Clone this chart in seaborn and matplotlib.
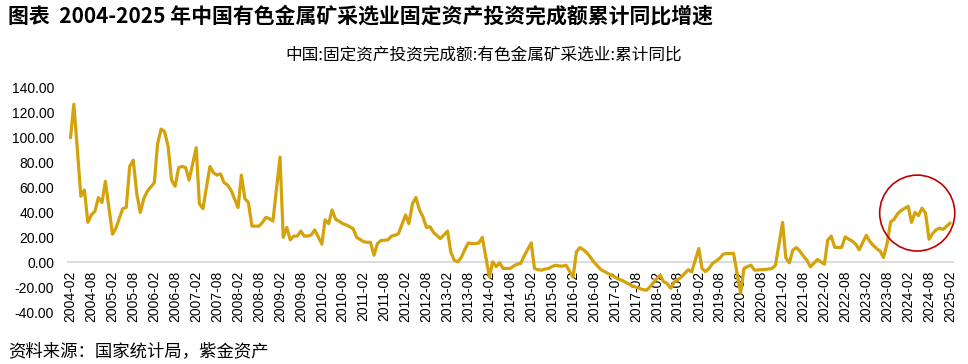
import pandas as pd
import numpy as np
import matplotlib
matplotlib.use("Agg")
import matplotlib.pyplot as plt
import matplotlib.dates as mdates
from matplotlib.patches import Ellipse
from matplotlib.ticker import FuncFormatter
import seaborn as sns

# 累计同比 (%), Feb-Dec each year (Jan-Feb reported together), 2004-02 .. 2025-02
values = [
    100, 127, 90, 53, 58, 32, 38, 41, 52, 48, 65,            # 2004
    22.5, 27, 35, 43, 44, 77, 82, 55, 40, 51, 57,            # 2005
    64, 95, 107, 105, 93, 66, 61, 76, 77, 76, 66,            # 2006
    92, 47, 43, 60, 77, 72, 70, 71, 64, 62, 58,              # 2007
    44, 70, 51, 48, 29, 29, 29, 32, 36, 35, 33,              # 2008
    84.5, 20, 28, 18, 21, 21, 25, 21, 21, 22, 26,            # 2009
    14.5, 34, 31, 42, 34.5, 33, 31, 30, 28.5, 27, 20,        # 2010
    16.5, 16, 16, 5.6, 15, 17.5, 17.7, 18, 21, 21.7, 23,     # 2011
    38, 31, 47, 52, 42, 36.5, 28, 28.5, 24, 21.5, 19,        # 2012
    25, 8.3, 1.6, 0.3, 4, 10, 15.5, 15, 15, 15.5, 20,        # 2013
    -12, 0.3, -3.5, -0.5, -5, -5, -5, -3, -1.6, -1, 5,       # 2014
    15.5, -5, -6, -6.4, -5.5, -5, -3.5, -2.4, -3, -3.2, -2.4,  # 2015
    -12, 8.5, 11.8, 10, 7.5, 4, 0, -3, -6, -7.5, -9,         # 2016
    -12, -13.5, -14.5, -16, -17.5, -19, -20, -21, -22, -22.5, -20,  # 2017
    -13, -10.5, -15.8, -17, -21, -16, -14, -12, -9, -6, -7.8,  # 2018
    11, -5, -7.5, -5, -1, 1, 3, 6.4, 7, 7, 7.2,              # 2019
    -25, -5, -3.5, -2.4, -6.4, -6.2, -6, -5.9, -5.5, -5, -2.4,  # 2020
    32, 3.5, -0.5, 9.7, 11.8, 9, 5, 1.6, -3.7, -0.8, 2.2,    # 2021
    -1.6, 17.7, 21, 12, 11.8, 12, 20.4, 18.5, 17, 14.5, 10,  # 2022
    21.7, 17, 13.7, 11, 9, 3.8, 15, 32.4, 34.4, 39, 41.5,    # 2023
    45, 32, 40, 37.5, 43.5, 39.5, 18.5, 23, 26, 27.5, 26.3,  # 2024
    31.5,                                                    # 2025
]

all_months = pd.date_range("2004-02-01", "2025-02-01", freq="MS")
dates = all_months[all_months.month != 1]

yticks = [-40, -20, 0, 20, 40, 60, 80, 100, 120, 140]
xticks = pd.date_range("2004-02-01", "2025-02-01", freq="6MS")

header = "图表  2004-2025 年中国有色金属矿采选业固定资产投资完成额累计同比增速"
chart_title = "中国:固定资产投资完成额:有色金属矿采选业:累计同比"
source = "资料来源：国家统计局，紫金资产"

df = pd.DataFrame({"date": dates, "value": values})

sns.set_theme(style="white")
plt.rcParams["font.family"] = ["Liberation Sans", "Noto Sans CJK SC", "DejaVu Sans"]
plt.rcParams["axes.unicode_minus"] = False

fig = plt.figure(figsize=(9.68, 3.64), dpi=100)
ax = fig.add_axes([68 / 968, 1 - 312 / 364, (953 - 68) / 968, (312 - 88) / 364])

sns.lineplot(data=df, x="date", y="value", ax=ax, color="#D4A20A",
             linewidth=2.3, zorder=3)

ax.set_ylim(-40, 140)
ax.set_xlim(pd.Timestamp("2004-02-01") - pd.Timedelta(days=22),
            pd.Timestamp("2025-02-01") + pd.Timedelta(days=25))
ax.set_yticks(yticks)
ax.yaxis.set_major_formatter(FuncFormatter(lambda v, p: f"{v:.2f}"))
ax.set_xticks(xticks)
ax.xaxis.set_major_formatter(mdates.DateFormatter("%Y-%m"))
ax.set_xlabel("")
ax.set_ylabel("")

for s in ["top", "right", "left"]:
    ax.spines[s].set_visible(False)
ax.spines["bottom"].set_position(("data", 0))
ax.spines["bottom"].set_color("#D9D9D9")
ax.spines["bottom"].set_linewidth(1.3)
ax.tick_params(axis="x", length=4, width=1, color="#D9D9D9", pad=2,
               labelsize=10, labelcolor="#000000", labelrotation=90)
ax.tick_params(axis="y", length=0, pad=10, labelsize=10, labelcolor="#000000")
ax.grid(False)

# highlight circle around 2023-2024
center = mdates.date2num(pd.Timestamp("2024-04-20"))
circ = Ellipse((center, 39.5), width=655, height=61, transform=ax.transData,
               fill=False, edgecolor="#C00000", linewidth=1.2, zorder=4,
               clip_on=False)
ax.add_patch(circ)

fig.text(0.5, 1 - 55 / 364, chart_title, ha="center", va="center",
         fontsize=12, family=["Noto Sans CJK SC", "DejaVu Sans"], color="#000000")
fig.text(8 / 968, 1 - 16 / 364, header, ha="left", va="center",
         fontsize=15, fontweight="bold",
         family=["Noto Sans CJK SC", "DejaVu Sans"], color="#000000")
fig.text(8 / 968, 1 - 351 / 364, source, ha="left", va="center",
         fontsize=12.5, family=["Noto Sans CJK SC", "DejaVu Sans"], color="#000000")

fig.savefig("out.png", dpi=100)
